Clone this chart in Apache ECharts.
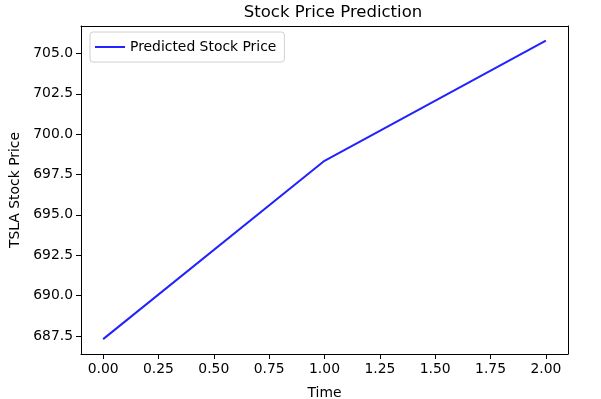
<!DOCTYPE html>
<html>
<head>
<meta charset="utf-8">
<script src="https://cdn.jsdelivr.net/npm/echarts@6/dist/echarts.min.js"></script>
<style>
  html, body { margin: 0; padding: 0; background: #fff; }
  #chart { width: 601px; height: 399px; }
</style>
</head>
<body>
<div id="chart"></div>
<script>
// data
var timeSteps = [0, 1, 2];
var predicted = [687.3, 698.35, 705.8];
var xTicks = [0, 0.25, 0.5, 0.75, 1, 1.25, 1.5, 1.75, 2];
var yTicks = [687.5, 690, 692.5, 695, 697.5, 700, 702.5, 705];

var font = 'DejaVu Sans';
var xMin = -0.1, xMax = 2.1;
var yMin = 686.38, yMax = 706.7;
var chart = echarts.init(document.getElementById('chart'));

// plain frame axis for the top / right spines
function frameAxis(pos, min, max) {
    return {
        type: 'value', position: pos, min: min, max: max,
        axisLine: { show: true, onZero: false, lineStyle: { color: '#000', width: 1 } },
        axisTick: { show: false },
        axisLabel: { show: false },
        splitLine: { show: false }
    };
}

// axis that only draws the outward tick marks
function tickAxis(pos, min, max, ticks) {
    return {
        type: 'value', position: pos, min: min, max: max,
        axisLine: { show: false, onZero: false },
        axisTick: { show: true, length: 5, customValues: ticks, lineStyle: { color: '#000', width: 1 } },
        axisLabel: { show: false, customValues: ticks },
        splitLine: { show: false }
    };
}

var option = {
    backgroundColor: '#fff',
    animation: false,
    graphic: [{
        type: 'text',
        x: 333, y: 13,
        style: {
            text: 'Stock Price Prediction',
            fontFamily: font, fontSize: 16.5, fill: '#000',
            textAlign: 'center', textVerticalAlign: 'middle'
        }
    }],
    legend: {
        left: 90, top: 32,
        data: ['Predicted Stock Price'],
        icon: 'path://M0,0 L30,0 L30,2 L0,2 Z',
        itemWidth: 30, itemHeight: 2, itemGap: 8,
        padding: [8, 8, 8, 5],
        borderColor: '#d0d0d0', borderWidth: 1, borderRadius: 3,
        textStyle: { fontFamily: font, fontSize: 13.9, color: '#000' }
    },
    grid: {
        left: 81, right: 33, top: 26, bottom: 45,
        outerBoundsMode: 'none'
    },
    xAxis: [{
        type: 'value', position: 'bottom',
        min: xMin, max: xMax,
        name: 'Time', nameLocation: 'middle', nameGap: 32,
        nameTextStyle: { fontFamily: font, fontSize: 13.9, color: '#000' },
        axisLine: { show: true, onZero: false, lineStyle: { color: '#000', width: 1 } },
        axisTick: { show: true, length: 5, customValues: xTicks, lineStyle: { color: '#000', width: 1 } },
        axisLabel: {
            customValues: xTicks, margin: 8,
            fontFamily: font, fontSize: 13.9, color: '#000',
            formatter: function (v) { return v.toFixed(2); }
        },
        splitLine: { show: false }
    }, frameAxis('top', xMin, xMax), tickAxis('bottom', xMin, xMax, xTicks)],
    yAxis: [{
        type: 'value', position: 'left',
        min: yMin, max: yMax,
        name: 'TSLA Stock Price', nameLocation: 'middle', nameGap: 58,
        nameTextStyle: { fontFamily: font, fontSize: 13.9, color: '#000' },
        axisLine: { show: true, onZero: false, lineStyle: { color: '#000', width: 1 } },
        axisTick: { show: true, length: 5, customValues: yTicks, lineStyle: { color: '#000', width: 1 } },
        axisLabel: {
            customValues: yTicks, margin: 8,
            fontFamily: font, fontSize: 13.9, color: '#000',
            formatter: function (v) { return v.toFixed(1); }
        },
        splitLine: { show: false }
    }, frameAxis('right', yMin, yMax), tickAxis('left', yMin, yMax, yTicks)],
    series: [{
        name: 'Predicted Stock Price',
        type: 'line',
        xAxisIndex: 0, yAxisIndex: 0,
        data: timeSteps.map(function (t, i) { return [t, predicted[i]]; }),
        symbol: 'none',
        lineStyle: { color: '#2222ff', width: 2 },
        itemStyle: { color: '#2222ff' }
    }]
};

chart.setOption(option);
</script>
</body>
</html>
